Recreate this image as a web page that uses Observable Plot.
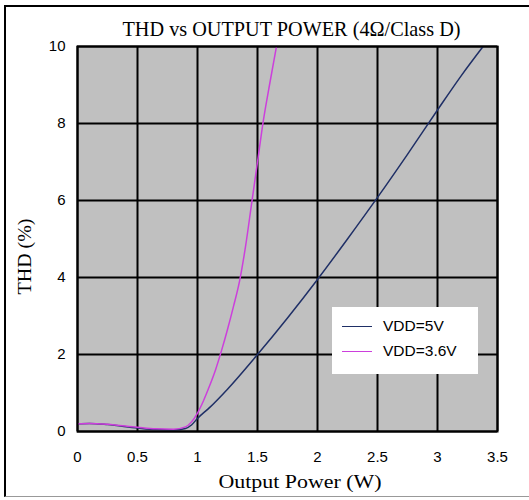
<!DOCTYPE html>
<html><head><meta charset="utf-8">
<script src="https://cdn.jsdelivr.net/npm/d3@7"></script>
<script src="https://cdn.jsdelivr.net/npm/@observablehq/plot@0.6"></script>
<style>
body{margin:0;background:#fff;}
#wrap{position:relative;width:529px;height:500px;overflow:hidden;background:#fff;}
#frame{position:absolute;left:4px;top:5px;width:540px;height:492px;border-left:2px solid #000;border-top:2px solid #000;border-bottom:1px solid #999;box-sizing:border-box;pointer-events:none}
#legend{position:absolute;left:332px;top:307px;width:146px;height:67px;background:#fff;font:15.5px "Liberation Sans",Arial,sans-serif;color:#000;}
.row{position:absolute;left:0;display:flex;align-items:center;height:20px;}
.sw{display:inline-block;width:30px;height:0;margin-left:10px;margin-right:11px;border-top:1.5px solid;}
</style>
</head><body>
<div id="wrap"><div id="chart"></div><div id="frame"></div><div id="legend"></div></div>
<script>
const titleText = "THD vs OUTPUT POWER (4Ω/Class D)";
const xLabel = "Output Power (W)";
const yLabel = "THD (%)";
const xTicks = [0, 0.5, 1, 1.5, 2, 2.5, 3, 3.5];
const yTicks = [0, 2, 4, 6, 8, 10];
const seriesNames = ["VDD=5V", "VDD=3.6V"];
const seriesColors = ["#1f2f66", "#cc3fdc"];

const power5 = [0, 0.1, 0.25, 0.5, 0.65, 0.8, 0.9, 0.95, 1.0, 1.1, 1.25, 1.5, 1.75, 2.0, 2.25, 2.5, 2.75, 3.0, 3.2, 3.38];
const thd5   = [0.2, 0.21, 0.18, 0.09, 0.05, 0.04, 0.08, 0.17, 0.34, 0.62, 1.1, 2.0, 2.95, 3.95, 5.0, 6.08, 7.2, 8.35, 9.25, 10];
const power36 = [0, 0.1, 0.25, 0.5, 0.65, 0.8, 0.9, 0.95, 1.0, 1.05, 1.1, 1.15, 1.2, 1.25, 1.3, 1.35, 1.4, 1.45, 1.5, 1.55, 1.6, 1.658];
const thd36   = [0.2, 0.21, 0.19, 0.11, 0.07, 0.06, 0.12, 0.25, 0.48, 0.8, 1.18, 1.6, 2.1, 2.65, 3.25, 3.9, 4.8, 5.9, 7.0, 8.1, 9.0, 10];

const data = [
  ...power5.map((p, i) => ({series: seriesNames[0], power: p, thd: thd5[i]})),
  ...power36.map((p, i) => ({series: seriesNames[1], power: p, thd: thd36[i]}))
];

const serif = "'Liberation Serif', 'DejaVu Serif', serif";
const sans = "'Liberation Sans', Arial, sans-serif";

const chart = Plot.plot({
  width: 529, height: 500,
  marginLeft: 77, marginRight: 32, marginTop: 46, marginBottom: 69,
  style: {background: "transparent", overflow: "visible"},
  x: {domain: [0, 3.5]},
  y: {domain: [0, 10]},
  color: {domain: seriesNames, range: seriesColors},
  marks: [
    Plot.frame({fill: "#c0c0c0"}),
    Plot.gridX(xTicks, {stroke: "#000", strokeOpacity: 1, strokeWidth: 2}),
    Plot.gridY(yTicks, {stroke: "#000", strokeOpacity: 1, strokeWidth: 2}),
    Plot.line(data, {x: "power", y: "thd", z: "series", stroke: "series", strokeWidth: 1.5, curve: "monotone-x", clip: true}),
    Plot.frame({stroke: "#000", strokeWidth: 2}),
    Plot.axisX(xTicks, {tickSize: 0, tickPadding: 20, fontSize: 15, fontFamily: sans, label: null, tickFormat: d => String(d)}),
    Plot.axisY(yTicks, {tickSize: 0, tickPadding: 12, fontSize: 15, fontFamily: sans, label: null, tickFormat: d => String(d)}),
    Plot.text([titleText], {frameAnchor: "top", textAnchor: "middle", lineAnchor: "middle", dx: 4, dy: -17.7, fontSize: 21, fontFamily: serif, fill: "#000"}),
    Plot.text([xLabel], {frameAnchor: "bottom", textAnchor: "middle", lineAnchor: "middle", dx: 12.5, dy: 50, fontSize: 19, fontFamily: serif, fill: "#000"}),
    Plot.text([yLabel], {frameAnchor: "left", textAnchor: "middle", lineAnchor: "middle", dx: -53, dy: 17.5, rotate: -90, fontSize: 19, fontFamily: serif, fill: "#000"})
  ]
});
document.getElementById("chart").appendChild(chart);

// condense the serif labels to the reference's narrow typeface widths
const fit = {[titleText]: 338, [xLabel]: 163, [yLabel]: 76};
d3.select(chart).selectAll("text").each(function() {
  const t = this.textContent;
  if (fit[t]) {
    this.setAttribute("textLength", fit[t]);
    this.setAttribute("lengthAdjust", "spacingAndGlyphs");
  }
});

const legend = document.getElementById("legend");
seriesNames.forEach((name, i) => {
  const row = document.createElement("div");
  row.className = "row";
  row.style.top = (9 + i * 25) + "px";
  const sw = document.createElement("span");
  sw.className = "sw";
  sw.style.borderTopColor = seriesColors[i];
  const t = document.createElement("span");
  t.textContent = name;
  row.appendChild(sw); row.appendChild(t);
  legend.appendChild(row);
});
</script>
</body></html>
